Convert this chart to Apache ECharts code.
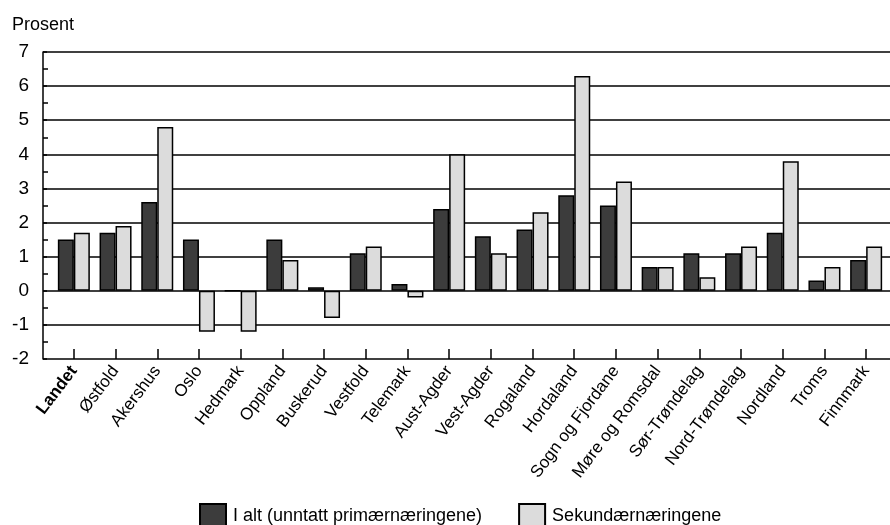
<!DOCTYPE html>
<html><head><meta charset="utf-8">
<script src="https://cdn.jsdelivr.net/npm/echarts@6/dist/echarts.min.js"></script>
<style>html,body{margin:0;padding:0;background:#fff}#c{width:890px;height:525px}</style>
</head><body><div id="c"></div>
<script>
const categories = ['Landet','Østfold','Akershus','Oslo','Hedmark','Oppland','Buskerud','Vestfold','Telemark','Aust-Agder','Vest-Agder','Rogaland','Hordaland','Sogn og Fjordane','Møre og Romsdal','Sør-Trøndelag','Nord-Trøndelag','Nordland','Troms','Finnmark'];
const iAlt = [1.5,1.7,2.6,1.5,0,1.5,0.1,1.1,0.2,2.4,1.6,1.8,2.8,2.5,0.7,1.1,1.1,1.7,0.3,0.9];
const sekundaer = [1.7,1.9,4.8,-1.2,-1.2,0.9,-0.8,1.3,-0.2,4.0,1.1,2.3,6.3,3.2,0.7,0.4,1.3,3.8,0.7,1.3];
const seriesNames = ['I alt (unntatt primærnæringene)','Sekundærnæringene'];
const yMin = -2, yMax = 7, yStep = 1;

(function(){
const font = '"Liberation Sans",Arial,sans-serif';
const chart = echarts.init(document.getElementById('c'));
const gTop = 52, gBottom = 166;
chart.setOption({
  animation:false,
  title:{text:'Prosent', left:7, top:11, textStyle:{fontFamily:font, fontSize:18, fontWeight:'normal', color:'#000'}},
  legend:{top:498, left:194, itemWidth:26, itemHeight:25, itemGap:36, icon:'rect',
    textStyle:{fontFamily:font, fontSize:18, color:'#000', padding:[0,0,0,2]},
    data:seriesNames},
  grid:[
    {left:43, right:0, top:gTop, bottom:gBottom},
    {left:53, right:3, top:gTop, bottom:gBottom}
  ],
  xAxis:[
    {gridIndex:0, type:'category', data:[''], show:false},
    {gridIndex:1, type:'category', data:categories.map((c,i)=> i===0 ? {value:c, textStyle:{fontWeight:'bold'}} : c),
     axisLine:{show:false, onZero:false},
     axisTick:{show:true, alignWithLabel:true, inside:true, length:10, lineStyle:{color:'#000', width:1.5}},
     axisLabel:{rotate:53, interval:0, fontFamily:font, fontSize:17, color:'#000', margin:9}}
  ],
  yAxis:[
    {gridIndex:0, type:'value', min:yMin, max:yMax, interval:yStep,
     axisLine:{show:true, lineStyle:{color:'#000', width:1.5}},
     axisTick:{show:true, inside:true, length:4, lineStyle:{color:'#000', width:1.5}},
     minorTick:{show:true, splitNumber:2, length:5, lineStyle:{color:'#000', width:1.5}},
     splitLine:{show:true, lineStyle:{color:'#000', width:1.5}},
     axisLabel:{fontFamily:font, fontSize:19, color:'#000', margin:14}},
    {gridIndex:1, type:'value', min:yMin, max:yMax, interval:yStep, show:false, splitLine:{show:false}}
  ],
  series:[
    {name:seriesNames[0], type:'bar', xAxisIndex:1, yAxisIndex:1, data:iAlt, barWidth:16, barGap:'0%',
     itemStyle:{color:'#3c3c3c', borderColor:'#000', borderWidth:1.5}},
    {name:seriesNames[1], type:'bar', xAxisIndex:1, yAxisIndex:1, data:sekundaer, barWidth:16, barGap:'0%',
     itemStyle:{color:'#dcdcdc', borderColor:'#000', borderWidth:1.5}}
  ]
});
})();
</script></body></html>
